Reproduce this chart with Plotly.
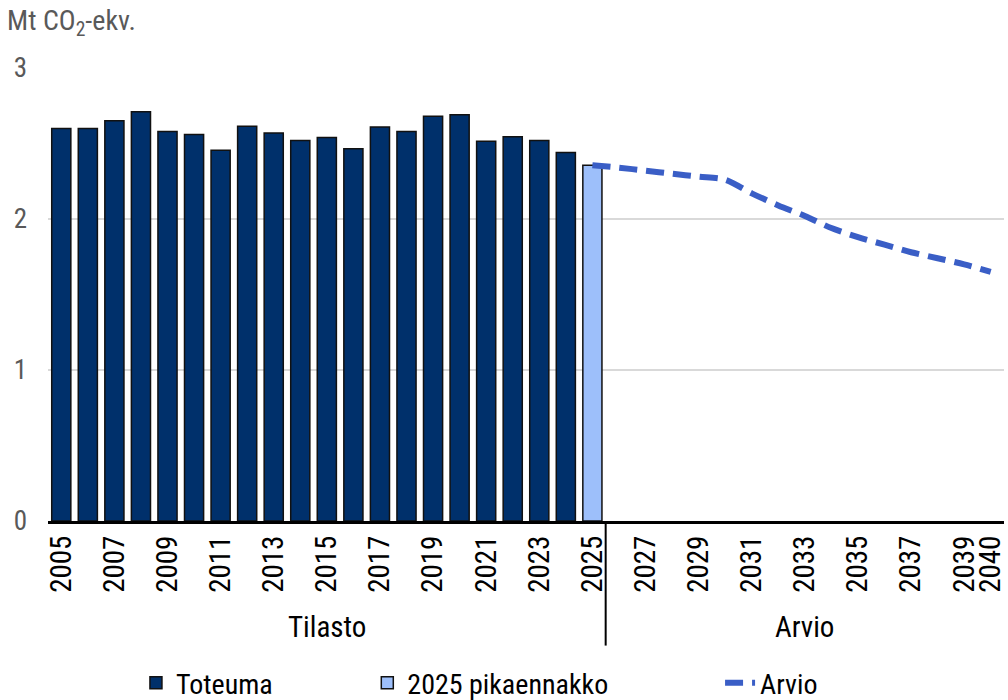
import plotly.graph_objects as go

years_hist = list(range(2005, 2025))
toteuma = [2.60, 2.60, 2.65, 2.71, 2.58, 2.56, 2.455, 2.615, 2.57, 2.52,
           2.54, 2.465, 2.61, 2.58, 2.68, 2.69, 2.515, 2.545, 2.52, 2.44]
year_flash = [2025]
pikaennakko = [2.356]
years_proj = list(range(2025, 2041))
arvio = [2.356, 2.34, 2.32, 2.30, 2.28, 2.26, 2.17, 2.09, 2.02, 1.94,
         1.88, 1.83, 1.78, 1.74, 1.70, 1.65]
tick_years = list(range(2005, 2040, 2)) + [2040]
group_labels = ["Tilasto", "Arvio"]

FONT = "Liberation Sans Narrow, Roboto Condensed, Arial Narrow, Liberation Sans, sans-serif"
NAVY = "#00306B"
LIGHT = "#9DBFFA"
LINEC = "#3A5EC6"

fig = go.Figure()
fig.add_trace(go.Bar(x=years_hist, y=toteuma, name="Toteuma",
                     marker=dict(color=NAVY, line=dict(color="#111111", width=1.5)),
                     legend="legend"))
fig.add_trace(go.Bar(x=year_flash, y=pikaennakko, name="2025 pikaennakko",
                     marker=dict(color=LIGHT, line=dict(color="#111111", width=1.5)),
                     legend="legend2"))
fig.add_trace(go.Scatter(x=years_proj, y=arvio, name="Arvio", mode="lines",
                         line=dict(color=LINEC, width=6, dash="18px,9px", shape="spline", smoothing=0.8),
                         legend="legend3"))

legend_common = dict(orientation="h", yanchor="middle", y=-0.358,
                     font=dict(family=FONT, size=28, color="#000000"),
                     bgcolor="rgba(0,0,0,0)", itemwidth=30)

# group separator and labels
sep_x = years_hist[-1] + 1.5
fig.add_shape(type="line", xref="x", yref="paper", x0=sep_x, x1=sep_x, y0=0, y1=-0.275,
              line=dict(color="#000000", width=2))
fig.add_annotation(x=(years_hist[0] + year_flash[0]) / 2, y=-0.235, xref="x", yref="paper",
                   text=group_labels[0], showarrow=False, yanchor="middle",
                   font=dict(family=FONT, size=29, color="#000000"))
fig.add_annotation(x=(years_proj[1] + years_proj[-1]) / 2, y=-0.235, xref="x", yref="paper",
                   text=group_labels[1], showarrow=False, yanchor="middle",
                   font=dict(family=FONT, size=29, color="#000000"))

fig.update_layout(
    width=1008, height=700,
    margin=dict(l=48, r=4, t=68, b=179, autoexpand=False),
    paper_bgcolor="white", plot_bgcolor="white",
    bargap=0.28,
    showlegend=True,
    title=dict(text="Mt CO<sub>2</sub>-ekv.", xref="container", yref="container",
               x=0.007, y=1 - 20 / 700, xanchor="left", yanchor="middle",
               font=dict(family=FONT, size=28, color="#595959")),
    legend=dict(**legend_common, x=0.092, xanchor="left"),
    legend2=dict(**legend_common, x=0.334, xanchor="left"),
    legend3=dict(**legend_common, x=0.703, xanchor="left"),
    xaxis=dict(range=[2004.5, 2040.5], tickmode="array", tickvals=tick_years,
               ticktext=[str(y) for y in tick_years], tickangle=-90,
               tickfont=dict(family=FONT, size=29, color="#000000"),
               showgrid=False, showline=True, linecolor="#000000", linewidth=3,
               ticks="", zeroline=False, automargin=False),
    yaxis=dict(range=[0, 3], tickvals=[0, 1, 2, 3], showgrid=True, gridcolor="#D9D9D9",
               gridwidth=1.5, tickfont=dict(family=FONT, size=27, color="#595959"),
               zeroline=False, showline=False, ticks="", ticklabelstandoff=20,
               automargin=False),
)

fig.write_html("out.html", config={"displayModeBar": False},
               post_script="document.body.style.margin='0px';document.body.style.overflow='hidden';")
